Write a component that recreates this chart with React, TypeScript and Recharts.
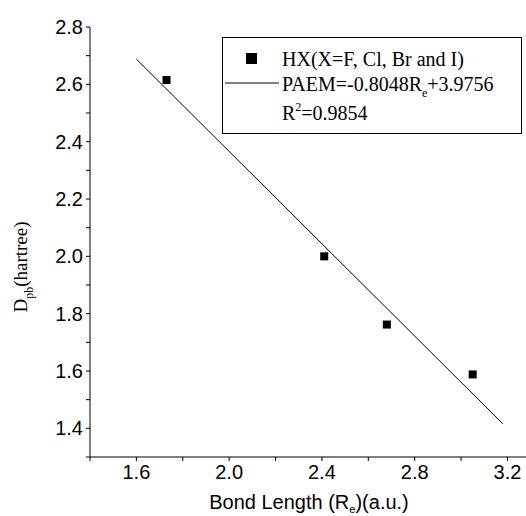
import React from "react";
import { ScatterChart, Scatter, XAxis, YAxis, Legend, Label } from "recharts";

// Data
const bondLength = [1.73, 2.41, 2.68, 3.05];
const dpb = [2.615, 2.0, 1.762, 1.588];
const fitX = [1.6, 3.18];
const fitY = [2.688, 1.416];

const xTicks = [1.4, 1.6, 1.8, 2.0, 2.2, 2.4, 2.6, 2.8, 3.0, 3.2];
const xMajor = [1.6, 2.0, 2.4, 2.8, 3.2];
const yTicks = [1.3, 1.4, 1.5, 1.6, 1.7, 1.8, 1.9, 2.0, 2.1, 2.2, 2.3, 2.4, 2.5, 2.6, 2.7, 2.8];
const yMajor = [1.4, 1.6, 1.8, 2.0, 2.2, 2.4, 2.6, 2.8];

const points = bondLength.map((x, i) => ({ x, y: dpb[i] }));
const fit = fitX.map((x, i) => ({ x, y: fitY[i] }));

const SANS = "'Liberation Sans', Arial, sans-serif";
const SERIF = "'Liberation Serif', 'Times New Roman', serif";

const isMajor = (arr: number[], v: number) => arr.some((m) => Math.abs(m - v) < 1e-6);

const SquareShape = (props: any) => {
  const { cx, cy } = props;
  if (cx == null || cy == null) return <g />;
  return <rect x={cx - 4} y={cy - 4} width={8} height={8} fill="#000" />;
};

const LegendBox = () => (
  <svg width={301} height={98} style={{ display: "block" }}>
    <rect x={0.5} y={0.5} width={299} height={96} fill="#fff" stroke="#000" strokeWidth={1} />
    <rect x={24} y={16} width={11} height={11} fill="#000" />
    <text x={60} y={29} fontFamily={SERIF} fontSize={20} fill="#000">
      HX(X=F, Cl, Br and I)
    </text>
    <line x1={3} y1={46} x2={57} y2={46} stroke="#000" strokeWidth={1} />
    <text x={60} y={54} fontFamily={SERIF} fontSize={20} fill="#000">
      PAEM=-0.8048R
      <tspan fontSize={12} dy={6}>e</tspan>
      <tspan dy={-6}>+3.9756</tspan>
    </text>
    <text x={60} y={83} fontFamily={SERIF} fontSize={20} fill="#000">
      R
      <tspan fontSize={12} dy={-9}>2</tspan>
      <tspan dy={9}>=0.9854</tspan>
    </text>
  </svg>
);

export default function App() {
  return (
    <div style={{ position: "absolute", left: 0, top: 0, width: 526, height: 516, background: "#fff" }}>
      <ScatterChart width={526} height={516} margin={{ top: 27, right: 0, bottom: 0, left: 0 }}>
        <XAxis
          type="number"
          dataKey="x"
          domain={[1.4, 3.28]}
          allowDataOverflow
          ticks={xTicks}
          interval={0}
          height={59}
          tickSize={4}
          tickMargin={4}
          axisLine={{ stroke: "#000", strokeWidth: 1 }}
          tickLine={{ stroke: "#000", strokeWidth: 1 }}
          tick={{ fill: "#000", fontSize: 20, fontFamily: SANS }}
          tickFormatter={(v: number) => (isMajor(xMajor, v) ? v.toFixed(1) : "")}
        >
          <Label
            content={() => (
              <text x={309} y={509} textAnchor="middle" fontFamily={SANS} fontSize={20} fill="#000">
                Bond Length (R
                <tspan fontSize={11} dy={4}>e</tspan>
                <tspan dy={-4}>)(a.u.)</tspan>
              </text>
            )}
          />
        </XAxis>
        <YAxis
          type="number"
          dataKey="y"
          domain={[1.3, 2.8]}
          allowDataOverflow
          ticks={yTicks}
          interval={0}
          width={90}
          tickSize={4}
          tickMargin={3}
          axisLine={{ stroke: "#000", strokeWidth: 1 }}
          tickLine={{ stroke: "#000", strokeWidth: 1 }}
          tick={{ fill: "#000", fontSize: 20, fontFamily: SANS }}
          tickFormatter={(v: number) => (isMajor(yMajor, v) ? v.toFixed(1) : "")}
        >
          <Label
            content={() => (
              <text
                x={0}
                y={0}
                transform="translate(27, 267) rotate(-90)"
                textAnchor="middle"
                fontFamily={SERIF}
                fontSize={19}
                fill="#000"
              >
                D
                <tspan fontSize={12} dy={6}>pb</tspan>
                <tspan dy={-6}>(hartree)</tspan>
              </text>
            )}
          />
        </YAxis>
        <Legend
          verticalAlign="middle"
          align="center"
          wrapperStyle={{ position: "absolute", left: 222, top: 37, width: 301, height: 98 }}
          content={() => <LegendBox />}
        />
        <Scatter
          data={fit}
          line={{ stroke: "#000", strokeWidth: 1 }}
          shape={() => <g />}
          isAnimationActive={false}
        />
        <Scatter data={points} shape={SquareShape} fill="#000" isAnimationActive={false} />
      </ScatterChart>
    </div>
  );
}
